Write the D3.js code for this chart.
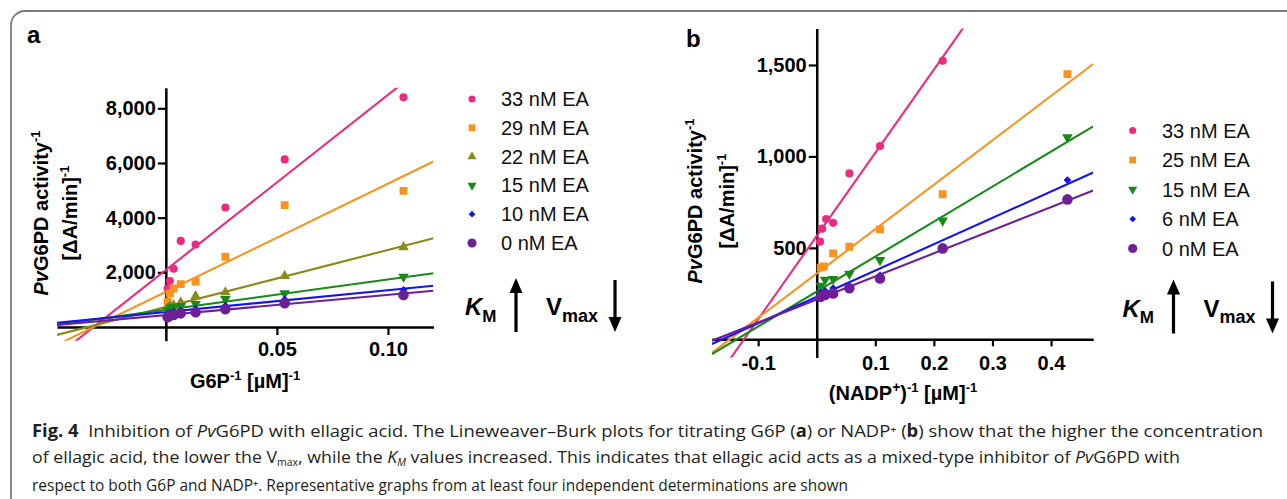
<!DOCTYPE html>
<html><head><meta charset="utf-8">
<script src="https://cdn.jsdelivr.net/npm/d3@7"></script>
<style>html,body{margin:0;padding:0;background:#fff;} svg{display:block;} text{white-space:pre;}</style>
</head><body>
<svg id="c" width="1287" height="499"></svg>
<script>
// ================= DATA =================
// Panel a : G6P titration
const seriesA = ["33 nM EA", "29 nM EA", "22 nM EA", "15 nM EA", "10 nM EA", "0 nM EA"];
const xA = [0.107, 0.0535, 0.0268, 0.0134, 0.0067, 0.0035, 0.0018, 0.0008];
const yA_33 = [8400, 6130, 4370, 3020, 3150, 2130, 1680, 1420];
const yA_29 = [4980, 4460, 2570, 1660, 1570, 1410, 1230, 930];
const yA_22 = [2920, 1870, 1270, 1130, 900, 800, 770, 680];
const yA_15 = [1840, 1230, 1020, 840, 770, 740, 700, 600];
const yA_10 = [1360, 1010, 780, 660, 600, 560, 520, 480];
const yA_0  = [1170, 870, 650, 540, 500, 440, 410, 355];
const slopeA = [64070, 39535, 20860, 11090, 7983, 7400];
const interceptA = [2085, 1288, 733, 630, 550, 437];
const xTicksA = [0.05, 0.10];
const xTickLabelsA = ["0.05", "0.10"];
const yTicksA = [2000, 4000, 6000, 8000];
const yTickLabelsA = ["2,000", "4,000", "6,000", "8,000"];

// Panel b : NADP+ titration
const seriesB = ["33 nM EA", "25 nM EA", "15 nM EA", "6 nM EA", "0 nM EA"];
const xB_33 = [0.215, 0.108, 0.0557, 0.028, 0.016, 0.0092, 0.0056];
const xB_25 = [0.428, 0.215, 0.108, 0.0557, 0.028, 0.012, 0.0067];
const xB = [0.428, 0.215, 0.108, 0.0557, 0.028, 0.0142, 0.0067];
const yB_33 = [1523, 1057, 907, 637, 658, 605, 534];
const yB_25 = [1450, 793, 601, 506, 470, 398, 392];
const yB_15 = [1104, 649, 433, 358, 330, 326, 293];
const yB_6  = [871, 505, 350, 291, 280, 265, 255];
const yB_0  = [765, 497, 333, 279, 251, 242, 232];
const slopeB = [4549, 2427, 1913, 1440, 1262];
const interceptB = [565, 360, 261, 232, 218];
const xTicksB = [-0.1, 0.1, 0.2, 0.3, 0.4];
const xTickLabelsB = ["-0.1", "0.1", "0.2", "0.3", "0.4"];
const yTicksB = [500, 1000, 1500];
const yTickLabelsB = ["500", "1,000", "1,500"];

// ================= STYLE =================
const colA = ["#ec2a80", "#f7931e", "#8a8a17", "#178a17", "#1414f0", "#6f1f96"];
const symA = ["circle", "square", "triangle", "triangleDown", "diamond", "circleBig"];
const colB = ["#ec2a80", "#f7931e", "#178a17", "#1414f0", "#6f1f96"];
const symB = ["circle", "square", "triangleDown", "diamond", "circleBig"];

const FONT = "Liberation Sans, Arial, Helvetica, sans-serif";
const svg = d3.select("#c");

// frame
svg.append("path")
  .attr("d", "M11,499 V25 A14,14 0 0 1 25,11 H1287")
  .attr("fill", "none").attr("stroke", "#7c7c7c").attr("stroke-width", 1.8);

function symbolPath(kind, scale) {
  const k = scale || 1;
  switch (kind) {
    case "circle": return d3.symbol(d3.symbolCircle, 52 * k)();
    case "circleBig": return d3.symbol(d3.symbolCircle, 88 * k)();
    case "square": return d3.symbol(d3.symbolSquare, 62 * k)();
    case "triangle": return d3.symbol(d3.symbolTriangle, 48 * k)();
    case "triangleDown": return d3.symbol(d3.symbolTriangle, 48 * k)();
    case "diamond": return d3.symbol(d3.symbolSquare, 30 * k)();
  }
}
function symbolRot(kind) {
  return kind === "triangleDown" ? 180 : kind === "diamond" ? 45 : 0;
}

function rich(sel, parts, base) {
  let shift = 0;
  parts.forEach(p => {
    const ts = sel.append("tspan").text(p.t);
    const target = p.sup ? -(p.up || base * 0.4) : p.sub ? (p.down || base * 0.3) : 0;
    if (target !== shift) { ts.attr("dy", target - shift); shift = target; }
    if (p.b) ts.attr("font-weight", "bold");
    if (p.i) ts.attr("font-style", "italic");
    if (p.sup || p.sub) ts.attr("font-size", p.size || base * 0.65);
  });
}

function panel(cfg) {
  const g = svg.append("g");
  const x = d3.scaleLinear().domain(cfg.xDomain).range(cfg.xRange);
  const y = d3.scaleLinear().domain(cfg.yDomain).range(cfg.yRange);
  const clipId = "clip" + cfg.id;
  svg.append("clipPath").attr("id", clipId).append("rect")
    .attr("x", cfg.xRange[0]).attr("y", cfg.yRange[1])
    .attr("width", cfg.xRange[1] - cfg.xRange[0])
    .attr("height", cfg.yRange[0] - cfg.yRange[1]);

  // axes
  const yAxis = d3.axisLeft(y).tickValues(cfg.yTicks)
    .tickFormat((d, i) => cfg.yTickLabels[i]).tickSize(8).tickPadding(2).tickSizeOuter(0);
  const xAxis = d3.axisBottom(x).tickValues(cfg.xTicks)
    .tickFormat((d, i) => cfg.xTickLabels[i]).tickSize(cfg.xTickSize).tickPadding(cfg.xTickPad).tickSizeOuter(0);
  const ya = g.append("g").attr("transform", `translate(${x(0)},0)`).call(yAxis);
  const xa = g.append("g").attr("transform", `translate(0,${y(0)})`).call(xAxis);
  [ya, xa].forEach(a => {
    a.select(".domain").attr("stroke", "#000").attr("stroke-width", 2.5);
    a.selectAll(".tick line").attr("stroke", "#000").attr("stroke-width", 2.2);
    a.selectAll(".tick text").attr("fill", "#000").attr("font-family", FONT)
      .attr("font-size", 20).attr("font-weight", "bold");
  });

  // fitted lines
  const lg = g.append("g").attr("clip-path", `url(#${clipId})`);
  const line = d3.line().x(d => x(d[0])).y(d => y(d[1]));
  const order = d3.range(cfg.series.length);
  order.forEach(i => {
    const pts = cfg.xDomain.map(xv => [xv, cfg.intercept[i] + cfg.slope[i] * xv]);
    lg.append("path").attr("d", line(pts)).attr("fill", "none")
      .attr("stroke", cfg.colors[i]).attr("stroke-width", 2.1);
  });
  // points
  order.forEach(i => {
    const xs = cfg.xs[i], ys = cfg.ys[i];
    lg.selectAll(null).data(xs.map((v, j) => [v, ys[j]])).enter().append("path")
      .attr("d", symbolPath(cfg.symbols[i]))
      .attr("transform", d => `translate(${x(d[0])},${y(d[1])}) rotate(${symbolRot(cfg.symbols[i])})`)
      .attr("fill", cfg.colors[i]);
  });

  // panel label
  g.append("text").attr("x", cfg.label.x).attr("y", cfg.label.y).text(cfg.id)
    .attr("font-family", FONT).attr("font-size", 24).attr("font-weight", "bold");

  // y title
  const yt1 = g.append("text").attr("transform", `translate(${cfg.yTitle.x1},${cfg.yTitle.y}) rotate(-90)`)
    .attr("text-anchor", "middle").attr("font-family", FONT).attr("font-size", 20).attr("font-weight", "bold");
  rich(yt1, [{t: "Pv", i: 1}, {t: "G6PD activity"}, {t: "-1", sup: 1, size: 13, up: 8}], 20);
  const yt2 = g.append("text").attr("transform", `translate(${cfg.yTitle.x2},${cfg.yTitle.y}) rotate(-90)`)
    .attr("text-anchor", "middle").attr("font-family", FONT).attr("font-size", 20).attr("font-weight", "bold");
  rich(yt2, [{t: "[ΔA/min]"}, {t: "-1", sup: 1, size: 13, up: 8}], 20);

  // x title
  const xt = g.append("text").attr("x", cfg.xTitle.x).attr("y", cfg.xTitle.y)
    .attr("text-anchor", "middle").attr("font-family", FONT).attr("font-size", 20).attr("font-weight", "bold");
  rich(xt, cfg.xTitle.parts, 20);

  // legend
  cfg.series.forEach((s, i) => {
    const cy = cfg.legend.y0 + i * cfg.legend.dy;
    g.append("path").attr("d", symbolPath(cfg.symbols[i], 0.75))
      .attr("transform", `translate(${cfg.legend.mx},${cy}) rotate(${symbolRot(cfg.symbols[i])})`)
      .attr("fill", cfg.colors[i]);
    g.append("text").attr("x", cfg.legend.tx).attr("y", cy + 7).text(s)
      .attr("font-family", FONT).attr("font-size", 20).attr("fill", "#111");
  });

  // KM up / Vmax down
  const kx = cfg.km.x, kb = cfg.km.y;
  const kt = g.append("text").attr("x", kx).attr("y", kb).attr("font-family", FONT)
    .attr("font-size", 24).attr("font-weight", "bold");
  rich(kt, [{t: "K", i: 1}, {t: "M", sub: 1, size: 17, down: 6.5}], 24);
  const vt = g.append("text").attr("x", kx + 81).attr("y", kb).attr("font-family", FONT)
    .attr("font-size", 24).attr("font-weight", "bold");
  rich(vt, [{t: "V"}, {t: "max", sub: 1, size: 18, down: 6.5}], 24);
  const ua = kx + 51, da = kx + 150, top = kb - 37, bot = kb + 17;
  g.append("line").attr("x1", ua).attr("x2", ua).attr("y1", bot).attr("y2", top + 12)
    .attr("stroke", "#000").attr("stroke-width", 3.2);
  g.append("path").attr("d", `M${ua - 6.5},${top + 15} L${ua + 6.5},${top + 15} L${ua},${top} Z`).attr("fill", "#000");
  g.append("line").attr("x1", da).attr("x2", da).attr("y1", top + 2).attr("y2", bot - 12)
    .attr("stroke", "#000").attr("stroke-width", 3.2);
  g.append("path").attr("d", `M${da - 6.5},${bot - 15} L${da + 6.5},${bot - 15} L${da},${bot} Z`).attr("fill", "#000");
}

panel({
  id: "a",
  xDomain: [-0.049, 0.1205], xRange: [57, 433.5],
  yDomain: [-500, 8750], yRange: [340.7, 87.8],
  xTicks: xTicksA, xTickLabels: xTickLabelsA, xTickSize: 8, xTickPad: 7,
  yTicks: yTicksA, yTickLabels: yTickLabelsA,
  series: seriesA, colors: colA, symbols: symA,
  xs: [xA, xA, xA, xA, xA, xA],
  ys: [yA_33, yA_29, yA_22, yA_15, yA_10, yA_0],
  slope: slopeA, intercept: interceptA,
  label: {x: 27, y: 43},
  yTitle: {x1: 48, x2: 77, y: 213},
  xTitle: {x: 245, y: 388, parts: [{t: "G6P"}, {t: "-1", sup: 1, size: 13, up: 8}, {t: " [µM]"}, {t: "-1", sup: 1, size: 13, up: 8}]},
  legend: {mx: 472, tx: 501, y0: 99, dy: 28.8},
  km: {x: 465, y: 315}
});

panel({
  id: "b",
  xDomain: [-0.179, 0.472], xRange: [711.9, 1093.2],
  yDomain: [-100, 1700], yRange: [357.6, 28.4],
  xTicks: xTicksB, xTickLabels: xTickLabelsB, xTickSize: 7, xTickPad: 10,
  yTicks: yTicksB, yTickLabels: yTickLabelsB,
  series: seriesB, colors: colB, symbols: symB,
  xs: [xB_33, xB_25, xB, xB, xB],
  ys: [yB_33, yB_25, yB_15, yB_6, yB_0],
  slope: slopeB, intercept: interceptB,
  label: {x: 686, y: 46.5},
  yTitle: {x1: 702, x2: 734, y: 201},
  xTitle: {x: 903, y: 400, parts: [{t: "(NADP"}, {t: "+", sup: 1, size: 14, up: 8}, {t: ")"}, {t: "-1", sup: 1, size: 13, up: 8}, {t: " [µM]"}, {t: "-1", sup: 1, size: 13, up: 8}]},
  legend: {mx: 1132.7, tx: 1162, y0: 130.5, dy: 29.5},
  km: {x: 1122.5, y: 316.5}
});

// ================= CAPTION =================
const CAPF = "Open Sans, Noto Sans, sans-serif";
const capLines = [
  {y: 437, w: 1231, parts: [
    {t: "Fig. 4", b: 1}, {t: "  Inhibition of "}, {t: "Pv", i: 1},
    {t: "G6PD with ellagic acid. The Lineweaver–Burk plots for titrating G6P ("}, {t: "a", b: 1},
    {t: ") or NADP⁺ ("}, {t: "b", b: 1},
    {t: ") show that the higher the concentration"}]},
  {y: 463, w: 1148, parts: [
    {t: "of ellagic acid, the lower the V"}, {t: "max", sub: 1, size: 10, down: 2.5}, {t: ", while the "},
    {t: "K", i: 1}, {t: "M", i: 1, sub: 1, size: 10, down: 2.5},
    {t: " values increased. This indicates that ellagic acid acts as a mixed-type inhibitor of "},
    {t: "Pv", i: 1}, {t: "G6PD with"}]},
  {y: 491, w: 816, parts: [
    {t: "respect to both G6P and NADP⁺. Representative graphs from at least four independent determinations are shown"}]}
];
capLines.forEach(l => {
  const t = svg.append("text").attr("x", 32).attr("y", l.y).attr("font-family", CAPF)
    .attr("font-size", 17).attr("fill", "#231f20")
    .attr("textLength", l.w).attr("lengthAdjust", "spacingAndGlyphs");
  rich(t, l.parts, 17);
});
</script>
</body></html>
